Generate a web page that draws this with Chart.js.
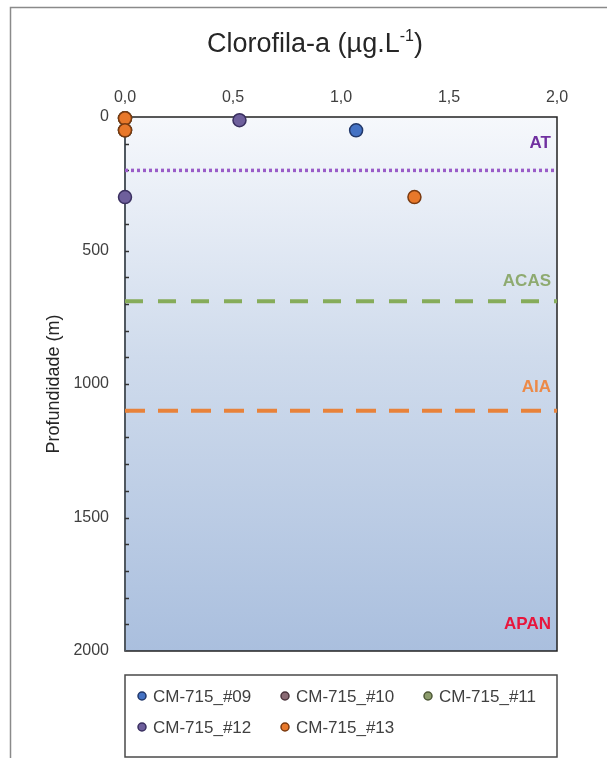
<!DOCTYPE html>
<html>
<head>
<meta charset="utf-8">
<script src="https://cdn.jsdelivr.net/npm/chart.js@4.4.1/dist/chart.umd.min.js"></script>
<style>
  html, body { margin: 0; padding: 0; background: #ffffff; }
  #wrap { width: 607px; height: 758px; position: relative; }
</style>
</head>
<body>
<div id="wrap"><canvas id="chart"></canvas></div>
<script>
// Chlorophyll-a profiles per station (value in µg/L, depth in m)
const seriesNames = ['CM-715_#09', 'CM-715_#10', 'CM-715_#11', 'CM-715_#12', 'CM-715_#13'];
const chla09 = [1.07];
const depth09 = [50];
const chla10 = [0, 0];
const depth10 = [5, 50];
const chla11 = [0, 0];
const depth11 = [5, 50];
const chla12 = [0.53, 0];
const depth12 = [12, 300];
const chla13 = [0, 0, 1.34];
const depth13 = [5, 50, 300];

// Axis ticks
const xTickValues = [0, 0.5, 1.0, 1.5, 2.0];
const yTickValues = [0, 500, 1000, 1500, 2000];

// Water masses and the depths of their boundaries
const massNames = ['AT', 'ACAS', 'AIA', 'APAN'];
const massBoundaries = [200, 690, 1100];

const FONT = "'Liberation Sans', Arial, sans-serif";

const fills   = ['#4472C4', '#8A6A74', '#8C9C6C', '#6E5F9C', '#E8782A'];
const borders = ['#22386A', '#4A343C', '#4E5838', '#3A3060', '#7A3A10'];
const boundaryColors = ['#9A5CC8', '#86AC5A', '#E8823A'];
const boundaryDash = [[3, 3], [18, 15], [20, 13]];
const massLabelColors = ['#7030A0', '#8EAA70', '#EC8A48', '#E8163C'];

function pts(xs, ys) { return xs.map((v, i) => ({ x: v, y: ys[i] })); }
const seriesData = [pts(chla09, depth09), pts(chla10, depth10), pts(chla11, depth11), pts(chla12, depth12), pts(chla13, depth13)];
// draw order: #13 on top of the others
const drawOrder = [4, 3, 2, 1, 0];

const datasets = seriesNames.map((name, i) => ({
  type: 'scatter',
  label: name,
  data: seriesData[i],
  backgroundColor: fills[i],
  borderColor: borders[i],
  borderWidth: 1.5,
  pointRadius: 6.5,
  pointHoverRadius: 6.5,
  clip: false,
  order: drawOrder[i]
}));

massBoundaries.forEach((d, i) => {
  datasets.push({
    type: 'line',
    label: massNames[i] + '_limit',
    data: [{ x: 0, y: d }, { x: 2, y: d }],
    borderColor: boundaryColors[i],
    borderWidth: i === 0 ? 3.5 : 4,
    borderDash: boundaryDash[i],
    pointRadius: 0,
    fill: false,
    clip: false,
    order: 20
  });
});

const backdrop = {
  id: 'backdrop',
  beforeDatasetsDraw(chart) {
    const { ctx, chartArea: a, scales: { y } } = chart;
    ctx.save();
    const g = ctx.createLinearGradient(0, a.top, 0, a.bottom);
    g.addColorStop(0, '#F6F8FC');
    g.addColorStop(0.45, '#CFDBEC');
    g.addColorStop(1, '#AABFDE');
    ctx.fillStyle = g;
    ctx.fillRect(a.left, a.top, a.right - a.left, a.bottom - a.top);

    // plot frame
    ctx.strokeStyle = '#222222';
    ctx.lineWidth = 1.5;
    ctx.strokeRect(a.left, a.top, a.right - a.left, a.bottom - a.top);
    ctx.strokeStyle = '#505860';
    ctx.lineWidth = 2;
    ctx.beginPath();
    ctx.moveTo(a.left, a.top);
    ctx.lineTo(a.left, a.bottom);
    ctx.stroke();

    // minor depth ticks every 100 m
    ctx.strokeStyle = '#333333';
    ctx.lineWidth = 1.5;
    for (let d = 100; d < 2000; d += 100) {
      const py = Math.round(y.getPixelForValue(d)) + 0.5;
      ctx.beginPath();
      ctx.moveTo(a.left, py);
      ctx.lineTo(a.left + 4, py);
      ctx.stroke();
    }

    // water mass labels
    ctx.font = "bold 17px " + FONT;
    ctx.textAlign = 'right';
    ctx.textBaseline = 'middle';
    const labelY = [
      y.getPixelForValue(massBoundaries[0]) - 27,
      y.getPixelForValue(massBoundaries[1]) - 20,
      y.getPixelForValue(massBoundaries[2]) - 23,
      a.bottom - 27
    ];
    massNames.forEach((n, i) => {
      ctx.fillStyle = massLabelColors[i];
      ctx.fillText(n, a.right - 6, labelY[i]);
    });
    ctx.restore();
  },
  afterDraw(chart) {
    const { ctx, chartArea: a } = chart;
    ctx.save();
    // outer frame
    ctx.strokeStyle = '#8A8A8A';
    ctx.lineWidth = 1.5;
    ctx.strokeRect(10.5, 7.5, 700, 800);

    // title with superscript
    const main = 'Clorofila-a (µg.L';
    const sup = '-1';
    const tail = ')';
    ctx.fillStyle = '#262626';
    ctx.textBaseline = 'alphabetic';
    ctx.textAlign = 'left';
    ctx.font = "27px " + FONT;
    const w1 = ctx.measureText(main).width;
    const w3 = ctx.measureText(tail).width;
    ctx.font = "16px " + FONT;
    const w2 = ctx.measureText(sup).width;
    const total = w1 + w2 + w3;
    let tx = 315 - total / 2;
    const base = 52;
    ctx.font = "27px " + FONT;
    ctx.fillText(main, tx, base);
    tx += w1;
    ctx.font = "16px " + FONT;
    ctx.fillText(sup, tx, base - 11);
    tx += w2;
    ctx.font = "27px " + FONT;
    ctx.fillText(tail, tx, base);

    // legend
    const lx = a.left, ly = 675, lw = a.right - a.left, lh = 82;
    ctx.strokeStyle = '#4A4A4A';
    ctx.lineWidth = 1.5;
    ctx.strokeRect(lx, ly, lw, lh);
    const cols = [lx + 17, lx + 160, lx + 303];
    const rows = [ly + 21, ly + 52];
    ctx.font = "17px " + FONT;
    ctx.textBaseline = 'middle';
    seriesNames.forEach((n, i) => {
      const cx = cols[i % 3], cy = rows[Math.floor(i / 3)];
      ctx.beginPath();
      ctx.arc(cx, cy, 4, 0, Math.PI * 2);
      ctx.fillStyle = fills[i];
      ctx.fill();
      ctx.strokeStyle = borders[i];
      ctx.lineWidth = 1.5;
      ctx.stroke();
      ctx.fillStyle = '#404040';
      ctx.fillText(n, cx + 11, cy + 1);
    });
    ctx.restore();
  }
};

new Chart(document.getElementById('chart'), {
  type: 'scatter',
  data: { datasets },
  options: {
    responsive: true,
    maintainAspectRatio: false,
    animation: false,
    devicePixelRatio: 1,
    layout: { padding: { left: 10, right: 50, top: 70, bottom: 107 } },
    plugins: { legend: { display: false }, tooltip: { enabled: false }, title: { display: false } },
    scales: {
      x: {
        type: 'linear',
        position: 'top',
        min: 0,
        max: 2,
        afterBuildTicks: s => { s.ticks = xTickValues.map(v => ({ value: v })); },
        afterFit: s => { s.height = 47; },
        ticks: {
          padding: 10,
          color: '#404040',
          font: { family: FONT, size: 16 },
          callback: v => Number(v).toFixed(1).replace('.', ',')
        },
        grid: { display: false, drawTicks: false },
        border: { display: false }
      },
      y: {
        type: 'linear',
        reverse: true,
        min: 0,
        max: 2000,
        afterBuildTicks: s => { s.ticks = yTickValues.map(v => ({ value: v })); },
        afterFit: s => { s.width = 115; },
        ticks: {
          padding: 16,
          color: '#404040',
          font: { family: FONT, size: 16 },
          callback: v => String(v)
        },
        title: {
          display: true,
          text: 'Profundidade (m)',
          color: '#262626',
          font: { family: FONT, size: 18 },
          padding: { top: 33, bottom: 0 }
        },
        grid: { display: false, drawTicks: false },
        border: { display: false }
      }
    }
  },
  plugins: [backdrop]
});
</script>
</body>
</html>
